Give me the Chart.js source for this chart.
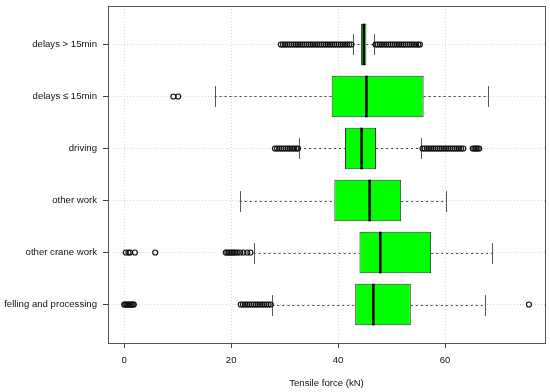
<!DOCTYPE html>
<html>
<head>
<meta charset="utf-8">
<script src="https://cdn.jsdelivr.net/npm/chart.js@4"></script>
<style>
	body { margin: 0; background: #fff; }
</style>
</head>
<body>
<canvas id="box" width="550" height="392"></canvas>
<script>
// categories from bottom (1) to top (6)
const categories = [
	'felling and processing',
	'other crane work',
	'other work',
	'driving',
	'delays ≤ 15min',
	'delays > 15min',
];
const lowWhisker = [27.7, 24.2, 21.6, 32.7, 16.9, 42.7];
const q1 = [43.2, 44.0, 39.3, 41.3, 38.8, 44.3];
const median = [46.6, 47.9, 45.9, 44.4, 45.3, 44.8];
const q3 = [53.6, 57.4, 51.8, 47.1, 56.0, 45.3];
const highWhisker = [67.4, 68.8, 60.1, 55.6, 68.0, 46.8];

const outFelling = [
	0.0, 0.2, 0.4, 0.6, 0.8, 1.0, 1.2, 1.4, 1.6, 1.8,
	21.8, 22.2, 22.6, 23.0, 23.4, 23.8, 24.2, 24.6, 25.0, 25.4,
	25.8, 26.2, 26.6, 27.0, 27.4, 75.7,
];
const outOtherCrane = [
	0.3, 0.8, 1.1, 2.0, 5.8,
	19.0, 19.3, 19.6, 19.9, 20.2, 20.5, 20.8, 21.2, 21.7, 22.3, 23.0, 23.6,
];
const outOtherWork = [];
const outDriving = [
	28.2, 28.6, 29.0, 29.4, 29.8, 30.2, 30.6, 31.0, 31.4, 31.8, 32.2, 32.5,
	55.8, 56.2, 56.6, 57.0, 57.4, 57.8, 58.2, 58.6, 59.0, 59.4,
	59.8, 60.2, 60.6, 61.0, 61.4, 61.8, 62.2, 62.6, 63.0, 63.4,
	65.2, 65.5, 65.8, 66.1, 66.4,
];
const outDelaysShort = [9.2, 10.1];
const outDelaysLong = [
	29.3, 29.7, 30.1, 30.5, 30.9, 31.3, 31.7, 32.1, 32.5, 32.9,
	33.3, 33.7, 34.1, 34.5, 34.9, 35.3, 35.7, 36.1, 36.5, 36.9,
	37.3, 37.7, 38.1, 38.5, 38.9, 39.3, 39.7, 40.1, 40.5, 40.9,
	41.3, 41.7, 42.1, 42.5,
	47.0, 47.4, 47.8, 48.2, 48.6, 49.0, 49.4, 49.8, 50.2, 50.6,
	51.0, 51.4, 51.8, 52.2, 52.6, 53.0, 53.4, 53.8, 54.2, 54.6,
	55.0, 55.3,
];
const outliers = [outFelling, outOtherCrane, outOtherWork, outDriving, outDelaysShort, outDelaysLong];

const xTicks = [0, 20, 40, 60];

const labelFont = { family: '"Liberation Sans", Arial, sans-serif', size: 9.6 };

const boxParts = {
	id: 'boxParts',
	beforeDatasetsDraw(chart) {
		const { ctx, scales: { x, y } } = chart;
		ctx.save();
		ctx.lineWidth = 1;
		categories.forEach((c, i) => {
			const py = Math.round(y.getPixelForValue(i + 1)) + 0.5;
			const half = Math.abs(y.getPixelForValue(i + 1.2) - y.getPixelForValue(i + 1));
			ctx.strokeStyle = '#444';
			ctx.setLineDash([2, 3]);
			ctx.beginPath();
			ctx.moveTo(x.getPixelForValue(lowWhisker[i]), py);
			ctx.lineTo(x.getPixelForValue(q1[i]), py);
			ctx.moveTo(x.getPixelForValue(q3[i]), py);
			ctx.lineTo(x.getPixelForValue(highWhisker[i]), py);
			ctx.stroke();
			ctx.setLineDash([]);
			ctx.strokeStyle = '#555';
			ctx.beginPath();
			[lowWhisker[i], highWhisker[i]].forEach((v) => {
				const px = Math.round(x.getPixelForValue(v)) + 0.5;
				ctx.moveTo(px, py - half);
				ctx.lineTo(px, py + half);
			});
			ctx.stroke();
		});
		ctx.restore();
	},
	afterDatasetsDraw(chart) {
		const { ctx, chartArea, scales: { x, y } } = chart;
		ctx.save();
		ctx.strokeStyle = '#000';
		ctx.lineWidth = 2.5;
		categories.forEach((c, i) => {
			const px = x.getPixelForValue(median[i]);
			ctx.beginPath();
			ctx.moveTo(px, y.getPixelForValue(i + 1.4));
			ctx.lineTo(px, y.getPixelForValue(i + 0.6));
			ctx.stroke();
		});
		ctx.strokeStyle = '#555';
		ctx.lineWidth = 1;
		ctx.strokeRect(chartArea.left + 0.5, chartArea.top + 0.5, chartArea.right - chartArea.left, chartArea.bottom - chartArea.top);
		ctx.restore();
	},
};

const datasets = [
	{
		type: 'bar',
		data: categories.map((c, i) => ({ x: [q1[i], q3[i]], y: i + 1 })),
		backgroundColor: '#00ff00',
		borderColor: '#333',
		borderWidth: 1,
		borderSkipped: false,
		barPercentage: 0.8,
		categoryPercentage: 1,
	},
];
outliers.forEach((list, i) => {
	datasets.push({
		type: 'scatter',
		data: list.map((v) => ({ x: v, y: i + 1 })),
		pointStyle: 'circle',
		pointRadius: 2.5,
		borderColor: '#111',
		backgroundColor: 'rgba(255,255,255,0)',
		borderWidth: 1.2,
	});
});

new Chart(document.getElementById('box'), {
	type: 'bar',
	data: { datasets },
	plugins: [boxParts],
	options: {
		responsive: false,
		animation: false,
		indexAxis: 'y',
		layout: { autoPadding: false, padding: { top: 6, right: 5, left: 0, bottom: 0 } },
		plugins: {
			legend: { display: false },
			tooltip: { enabled: false },
		},
		scales: {
			x: {
				type: 'linear',
				min: -3.03,
				max: 78.7,
				offset: false,
				afterBuildTicks: (s) => { s.ticks = xTicks.map((v) => ({ value: v })); },
				afterFit: (s) => { s.height = 49; s.paddingLeft = 0; s.paddingRight = 0; },
				grid: { offset: false, color: '#d6d6d6', tickColor: '#444', tickLength: 5 },
				border: { color: '#555', dash: [1, 2] },
				ticks: { padding: 7, color: '#111', font: labelFont },
				title: {
					display: true,
					text: 'Tensile force (kN)',
					color: '#111',
					font: labelFont,
					padding: { top: 0, bottom: 2.4 },
				},
			},
			y: {
				type: 'linear',
				min: 0.26,
				max: 6.74,
				offset: false,
				afterBuildTicks: (s) => { s.ticks = categories.map((c, i) => ({ value: i + 1 })); },
				afterFit: (s) => { s.width = 108; s.paddingTop = 0; s.paddingBottom = 0; },
				grid: { offset: false, color: '#d6d6d6', tickColor: '#444', tickLength: 5 },
				border: { color: '#555', dash: [1, 2] },
				ticks: {
					padding: 6,
					color: '#111',
					font: labelFont,
					callback: (v) => categories[v - 1],
				},
			},
		},
	},
});
</script>
</body>
</html>
